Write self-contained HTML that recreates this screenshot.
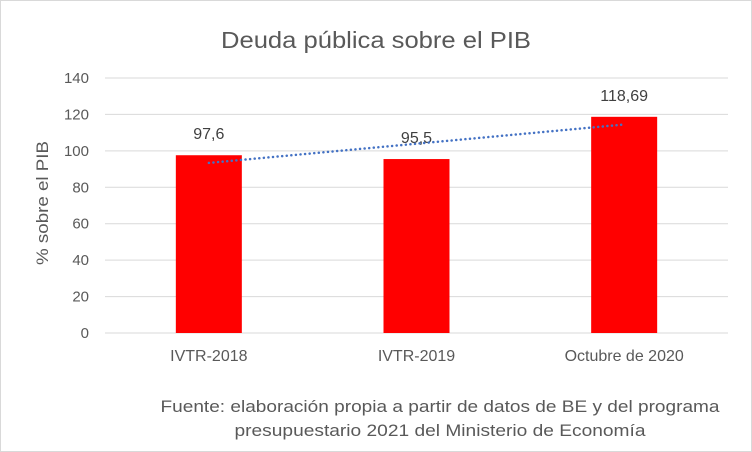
<!DOCTYPE html>
<html><head><meta charset="utf-8">
<style>
html,body{margin:0;padding:0;background:#fff;}
svg{display:block;font-family:"Liberation Sans",Calibri,sans-serif;}
</style></head>
<body>
<svg id="chart" width="752" height="452" viewBox="0 0 752 452">
<rect x="0.5" y="0.5" width="751" height="451" fill="#fff" stroke="#d9d9d9"/>
<text x="376" y="48" text-anchor="middle" font-size="23" fill="#595959" textLength="310" lengthAdjust="spacingAndGlyphs">Deuda pública sobre el PIB</text>
<text transform="translate(48,203) rotate(-90)" text-anchor="middle" font-size="17" fill="#595959" textLength="124" lengthAdjust="spacingAndGlyphs">% sobre el PIB</text>
<g id="grid"></g><g id="bars"></g><g id="labels"></g><g id="trend"></g>
<text x="440" y="412" text-anchor="middle" font-size="17" fill="#595959" textLength="559" lengthAdjust="spacingAndGlyphs">Fuente: elaboración propia a partir de datos de BE y del programa</text>
<text x="440" y="436" text-anchor="middle" font-size="17" fill="#595959" textLength="411" lengthAdjust="spacingAndGlyphs">presupuestario 2021 del Ministerio de Economía</text>
</svg>
<script>
const categories = ["IVTR-2018","IVTR-2019","Octubre de 2020"];
const values = [97.6, 95.5, 118.69];
const valueLabels = ["97,6","95,5","118,69"];
const yTicks = [0,20,40,60,80,100,120,140];

const NS="http://www.w3.org/2000/svg";
const left=105,right=728,y0=333,yTop=78,yMax=140;
const bw=(right-left)/categories.length, barW=66;
const Y=v=>y0-(v/yMax)*(y0-yTop);
const X=i=>left+bw*(i+0.5);
function mk(tag,attrs,parent,txt){const e=document.createElementNS(NS,tag);for(const k in attrs)e.setAttribute(k,attrs[k]);if(txt!=null)e.textContent=txt;document.getElementById(parent).appendChild(e);return e;}
yTicks.forEach(t=>{
  const l=mk('line',{x1:left,x2:right,y1:Y(t),y2:Y(t),stroke:'#d9d9d9','stroke-width':1},'grid');
  
  
  const tx=mk('text',{x:left-16,y:Y(t)+5,'text-anchor':'end','font-size':15,fill:'#595959'},'grid',String(t));
  
  
});
categories.forEach((c,i)=>{
  const r=mk('rect',{x:X(i)-barW/2,y:Y(values[i]),width:barW,height:y0-Y(values[i]),fill:'#ff0000'},'bars');
  
  
  const lb=mk('text',{x:X(i),y:Y(values[i])-16,'text-anchor':'middle','font-size':16,fill:'#404040'},'labels',valueLabels[i]);
  
  
  const cx=mk('text',{x:X(i),y:y0+28,'text-anchor':'middle','font-size':16,fill:'#595959'},'labels',c);
  
  
});
// linear trendline
const n=values.length, mx=(n-1)/2, my=values.reduce((a,b)=>a+b,0)/n;
let sxy=0,sxx=0;values.forEach((v,i)=>{sxy+=(i-mx)*(v-my);sxx+=(i-mx)*(i-mx);});
const slope=sxy/sxx, b=my-slope*mx;
const tl=mk('line',{x1:X(0),y1:Y(b),x2:X(n-1),y2:Y(b+slope*(n-1)),stroke:'#4472c4','stroke-width':2.5,'stroke-dasharray':'0.1 4.5','stroke-linecap':'round'},'trend');


</script>
</body></html>
